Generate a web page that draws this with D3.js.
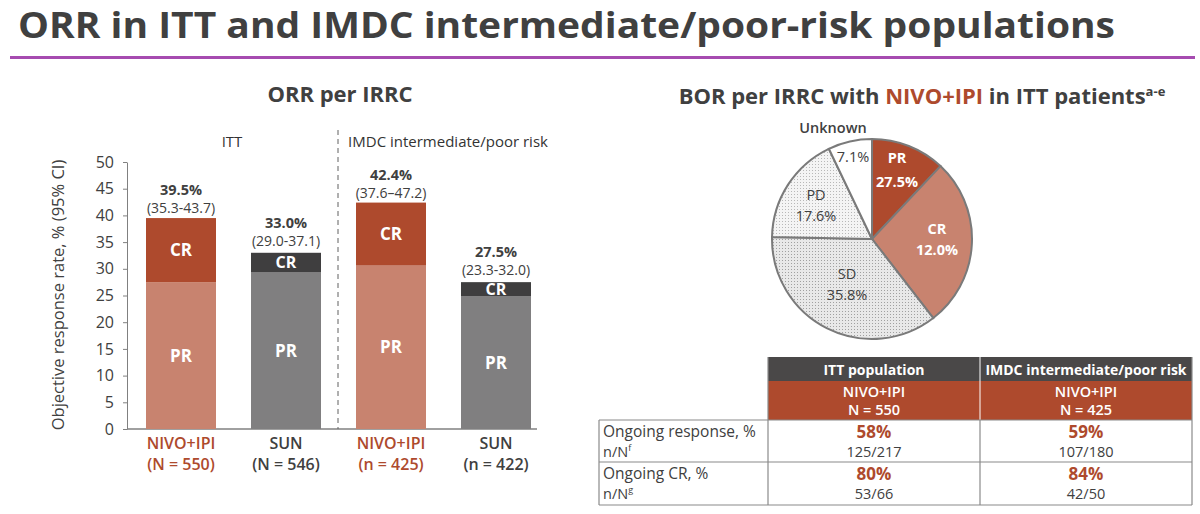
<!DOCTYPE html>
<html>
<head>
<meta charset="utf-8">
<script src="https://cdn.jsdelivr.net/npm/d3@7"></script>
<style>
  body { margin: 0; background: #fff; }
  svg { display: block; font-family: "Open Sans", "DejaVu Sans", sans-serif; }
</style>
</head>
<body>
<svg id="chart" width="1200" height="514"></svg>
<script>
// ---- data ----
const barKeys = ["nivoItt", "sunItt", "nivoImdc", "sunImdc"];
const barArm = ["NIVO+IPI", "SUN", "NIVO+IPI", "SUN"];
const barN = ["(N = 550)", "(N = 546)", "(n = 425)", "(n = 422)"];
const prValues = [27.5, 29.4, 30.6, 24.9];
const crValues = [12.0, 3.6, 11.8, 2.6];
const orrLabels = ["39.5%", "33.0%", "42.4%", "27.5%"];
const ciLabels = ["(35.3-43.7)", "(29.0-37.1)", "(37.6\u201347.2)", "(23.3-32.0)"];
const isNivo = [true, false, true, false];
const yTicks = [0, 5, 10, 15, 20, 25, 30, 35, 40, 45, 50];

const pieNames = ["PR", "CR", "SD", "PD", "Unknown"];
const pieSizes = [12.0, 27.5, 35.8, 17.6, 7.1];
const pieLabels = ["27.5%", "12.0%", "35.8%", "17.6%", "7.1%"];

const tableCols = ["ITT population", "IMDC intermediate/poor risk"];
const tableArm = ["N = 550", "N = 425"];
const tableRows = ["Ongoing response, %", "Ongoing CR, %"];
const tableRowSub = ["f", "g"];
const tablePct = [["58%", "59%"], ["80%", "84%"]];
const tableFrac = [["125/217", "107/180"], ["53/66", "42/50"]];

// ---- colors ----
const dark = "#404040";
const rust = "#ae4a2d";
const salmon = "#c8836f";
const sunPr = "#807f80";
const sunCr = "#3f3e3f";

const svg = d3.select("#chart");

// title
svg.append("text").attr("x", 18).attr("y", 38)
  .attr("font-size", 35).attr("font-weight", 700).attr("fill", dark)
  .attr("textLength", 1097).attr("lengthAdjust", "spacingAndGlyphs")
  .text("ORR in ITT and IMDC intermediate/poor-risk populations");
svg.append("rect").attr("x", 10).attr("y", 56).attr("width", 1185).attr("height", 3).attr("fill", "#a64bb0");

// ---- bar chart ----
const x = d3.scaleBand().domain(barKeys).range([128.5, 548.5]).paddingInner(1 / 3).paddingOuter(1 / 6);
const y = d3.scaleLinear().domain([0, 50]).range([429, 162]);

svg.append("text").attr("x", 340).attr("y", 102).attr("text-anchor", "middle")
  .attr("font-size", 22).attr("font-weight", 700).attr("fill", dark).text("ORR per IRRC");

const yAxis = svg.append("g").attr("transform", "translate(127,0)")
  .call(d3.axisLeft(y).tickValues(yTicks).tickSize(4).tickSizeOuter(0));
yAxis.select(".domain").attr("stroke", "#808080");
yAxis.selectAll(".tick line").attr("stroke", "#808080");
yAxis.selectAll(".tick text").attr("font-size", 16).attr("fill", dark)
  .attr("font-family", "'Open Sans', sans-serif").attr("x", -13);

svg.append("line").attr("x1", 127).attr("x2", 537).attr("y1", y(0)).attr("y2", y(0))
  .attr("stroke", "#808080").attr("stroke-width", 1.5);

svg.append("text").attr("transform", "translate(64,295) rotate(-90)")
  .attr("text-anchor", "middle").attr("font-size", 16.5).attr("fill", dark)
  .text("Objective response rate, % (95% CI)");

// dashed divider
svg.append("line").attr("x1", 338).attr("x2", 338).attr("y1", 130).attr("y2", 429)
  .attr("stroke", "#606060").attr("stroke-dasharray", "5,4");

svg.append("text").attr("x", 232).attr("y", 147).attr("text-anchor", "middle")
  .attr("font-size", 15).attr("fill", "#333").text("ITT");
svg.append("text").attr("x", 448).attr("y", 147).attr("text-anchor", "middle")
  .attr("font-size", 15).attr("fill", "#333").text("IMDC intermediate/poor risk");

const bars = svg.append("g").selectAll("g").data(barKeys).join("g");
bars.append("rect")
  .attr("x", d => x(d)).attr("width", x.bandwidth())
  .attr("y", (d, i) => y(prValues[i])).attr("height", (d, i) => y(0) - y(prValues[i]))
  .attr("fill", (d, i) => isNivo[i] ? salmon : sunPr);
bars.append("rect")
  .attr("x", d => x(d)).attr("width", x.bandwidth())
  .attr("y", (d, i) => y(prValues[i] + crValues[i])).attr("height", (d, i) => y(prValues[i]) - y(prValues[i] + crValues[i]))
  .attr("fill", (d, i) => isNivo[i] ? rust : sunCr);
bars.append("text")
  .attr("x", d => x(d) + x.bandwidth() / 2)
  .attr("y", (d, i) => y(prValues[i] / 2) + 6)
  .attr("text-anchor", "middle").attr("font-size", 17).attr("font-weight", 700).attr("fill", "#fff")
  .text("PR");
bars.append("text")
  .attr("x", d => x(d) + x.bandwidth() / 2)
  .attr("y", (d, i) => y(prValues[i] + crValues[i] / 2) + (isNivo[i] ? 6 : 5.5))
  .attr("text-anchor", "middle").attr("font-size", (d, i) => isNivo[i] ? 17 : 16)
  .attr("font-weight", 700).attr("fill", "#fff")
  .text("CR");
bars.append("text")
  .attr("x", d => x(d) + x.bandwidth() / 2)
  .attr("y", (d, i) => y(prValues[i] + crValues[i]) - (isNivo[i] ? 23 : 25))
  .attr("text-anchor", "middle").attr("font-size", 14.5).attr("font-weight", 700).attr("fill", dark)
  .text((d, i) => orrLabels[i]);
bars.append("text")
  .attr("x", d => x(d) + x.bandwidth() / 2)
  .attr("y", (d, i) => y(prValues[i] + crValues[i]) - (isNivo[i] ? 5 : 7))
  .attr("text-anchor", "middle").attr("font-size", 14).attr("fill", dark)
  .text((d, i) => ciLabels[i]);
bars.append("text")
  .attr("x", d => x(d) + x.bandwidth() / 2).attr("y", 449)
  .attr("text-anchor", "middle").attr("font-size", 16).attr("font-weight", 600)
  .attr("fill", (d, i) => isNivo[i] ? rust : dark)
  .text((d, i) => barArm[i]);
bars.append("text")
  .attr("x", d => x(d) + x.bandwidth() / 2).attr("y", 470)
  .attr("text-anchor", "middle").attr("font-size", 16).attr("font-weight", 600)
  .attr("fill", (d, i) => isNivo[i] ? rust : dark)
  .text((d, i) => barN[i]);

// ---- pie ----
const defs = svg.append("defs");
function dots(id, bg, dot) {
  const p = defs.append("pattern").attr("id", id).attr("width", 3).attr("height", 3)
    .attr("patternUnits", "userSpaceOnUse");
  p.append("rect").attr("width", 3).attr("height", 3).attr("fill", bg);
  p.append("rect").attr("width", 1).attr("height", 1).attr("fill", dot);
}
dots("dotSd", "#e8e8e8", "#a0a0a0");
dots("dotPd", "#f4f4f4", "#b8b8b8");

const titleR = svg.append("text").attr("x", 922).attr("y", 104).attr("text-anchor", "middle")
  .attr("font-size", 22).attr("font-weight", 700).attr("fill", dark);
titleR.append("tspan").text("BOR per IRRC with ");
titleR.append("tspan").attr("fill", rust).text("NIVO+IPI");
titleR.append("tspan").text(" in ITT patients");
titleR.append("tspan").attr("font-size", 13).attr("dy", -8).text("a-e");

const pieFills = [rust, salmon, "url(#dotSd)", "url(#dotPd)", "#fff"];
const pie = d3.pie().sort(null).value(d => d)(pieSizes);
const arc = d3.arc().innerRadius(0).outerRadius(100);
const pg = svg.append("g").attr("transform", "translate(872,239)");
pg.selectAll("path").data(pie).join("path")
  .attr("d", arc).attr("fill", (d, i) => pieFills[i])
  .attr("stroke", "#7a7a7a").attr("stroke-width", 2);

// label anchors relative to pie centre: [name x, name y, value x, value y]
const labelPos = [[25, -76, 25, -52], [65, -5, 65, 16], [-25, 40, -25, 61], [-56, -39, -56, -18], [-39, -106, -19, -77]];
pieNames.forEach((d, i) => {
  const col = i < 2 ? "#fff" : dark;
  const wt = i < 2 ? 700 : (i === 4 ? 600 : 400);
  pg.append("text").attr("x", labelPos[i][0]).attr("y", labelPos[i][1]).attr("text-anchor", "middle")
    .attr("font-size", 14.5).attr("font-weight", wt).attr("fill", col).text(d);
  pg.append("text").attr("x", labelPos[i][2]).attr("y", labelPos[i][3]).attr("text-anchor", "middle")
    .attr("font-size", 14.5).attr("font-weight", i < 2 ? 700 : 400).attr("fill", col).text(pieLabels[i]);
});

// ---- table ----
const colX = [599, 768, 980, 1192];
const rowY = [357, 381, 420, 462, 505];
const tg = svg.append("g");
tableCols.forEach((c, j) => {
  tg.append("rect").attr("x", colX[j + 1]).attr("y", rowY[0]).attr("width", colX[j + 2] - colX[j + 1])
    .attr("height", rowY[1] - rowY[0]).attr("fill", "#4a4848");
  tg.append("rect").attr("x", colX[j + 1]).attr("y", rowY[1]).attr("width", colX[j + 2] - colX[j + 1])
    .attr("height", rowY[2] - rowY[1]).attr("fill", rust);
  const cx = (colX[j + 1] + colX[j + 2]) / 2;
  tg.append("text").attr("x", cx).attr("y", 375).attr("text-anchor", "middle")
    .attr("font-size", 14).attr("font-weight", 700).attr("fill", "#fff").text(c);
  tg.append("text").attr("x", cx).attr("y", 397).attr("text-anchor", "middle")
    .attr("font-size", 14.5).attr("font-weight", 600).attr("fill", "#fff").text("NIVO+IPI");
  tg.append("text").attr("x", cx).attr("y", 415).attr("text-anchor", "middle")
    .attr("font-size", 14.5).attr("font-weight", 600).attr("fill", "#fff").text(tableArm[j]);
  tableRows.forEach((r, k) => {
    tg.append("text").attr("x", cx).attr("y", rowY[k + 2] + 18).attr("text-anchor", "middle")
      .attr("font-size", 17).attr("font-weight", 700).attr("fill", rust).text(tablePct[k][j]);
    tg.append("text").attr("x", cx).attr("y", rowY[k + 2] + 37).attr("text-anchor", "middle")
      .attr("font-size", 14.5).attr("fill", dark).text(tableFrac[k][j]);
  });
});
tg.append("line").attr("x1", colX[2]).attr("x2", colX[2]).attr("y1", rowY[0]).attr("y2", rowY[2])
  .attr("stroke", "#fff").attr("stroke-width", 1);
tableRows.forEach((r, k) => {
  tg.append("text").attr("x", 603).attr("y", rowY[k + 2] + 17)
    .attr("font-size", 15.5).attr("fill", dark).text(r);
  const s = tg.append("text").attr("x", 603).attr("y", rowY[k + 2] + 37)
    .attr("font-size", 14.5).attr("fill", dark).text("n/N");
  s.append("tspan").attr("font-size", 9).attr("dy", -6).text(tableRowSub[k]);
});
// grid lines
const gridC = "#8a8a8a";
[rowY[2], rowY[3], rowY[4]].forEach(yy =>
  tg.append("line").attr("x1", colX[0]).attr("x2", colX[3]).attr("y1", yy).attr("y2", yy)
    .attr("stroke", gridC).attr("stroke-width", 1.2));
[colX[0], colX[1], colX[2], colX[3]].forEach(xx =>
  tg.append("line").attr("x1", xx).attr("x2", xx).attr("y1", rowY[2]).attr("y2", rowY[4])
    .attr("stroke", gridC).attr("stroke-width", 1.2));
[colX[1], colX[3]].forEach(xx =>
  tg.append("line").attr("x1", xx).attr("x2", xx).attr("y1", rowY[0]).attr("y2", rowY[2])
    .attr("stroke", gridC).attr("stroke-width", 1.2));
</script>
</body>
</html>
